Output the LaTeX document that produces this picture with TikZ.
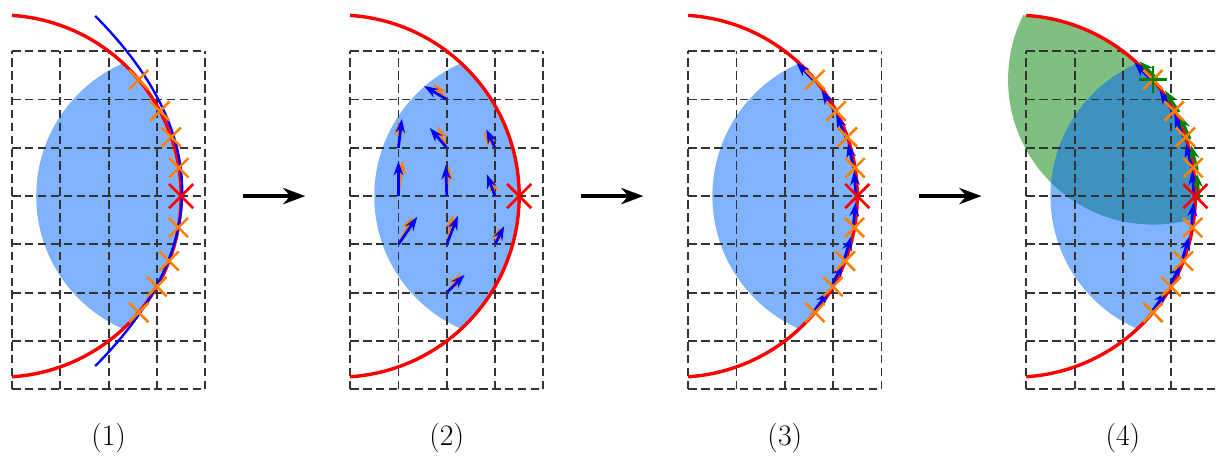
\documentclass[tikz,border=0pt]{standalone}
\usetikzlibrary{arrows.meta,calc}
\begin{document}
\begin{tikzpicture}[
    gridline/.style={draw=black!80, line width=1.05pt, dash pattern=on 5pt off 2.6pt},
    shell/.style={draw=red, line width=2pt},
    fitcurve/.style={draw=blue, line width=1.4pt},
    bluezone/.style={fill=zoneblue, fill opacity=0.5},
    greenzone/.style={fill=zonegreen, fill opacity=0.5},
    sample/.style={draw=markorange, line width=1.5pt},
    centre/.style={draw=red, line width=1.6pt},
    gradarrow/.style={-{Stealth[length=2.9mm,width=2mm]}, line width=1.6pt},
    steparrow/.style={-{Stealth[length=4.6mm,width=3.4mm,inset=1.5mm]}, draw=black, line width=1.9pt},
    panellabel/.style={font=\fontsize{17.5}{21}\selectfont}
]
\definecolor{zoneblue}{RGB}{0,102,255}
\definecolor{zonegreen}{RGB}{0,128,0}
\definecolor{markorange}{RGB}{255,128,0}
\tikzset{samplecross/.pic={\draw[pic actions] (-#1,-#1) -- (#1,#1) (-#1,#1) -- (#1,-#1);}}

\useasboundingbox (-0.25,-5.40) rectangle (24.99,4.06);

% (1) sampled points and fitted curve
\begin{scope}
  \begin{scope}
    \clip (-0.25,0) circle (3.75);
    \fill[bluezone] (3.5,0) circle (3);
  \end{scope}
  \draw[gridline] (0,-4) grid (4,3);
  \draw[shell] (-0.25,0) ++(86.2:3.75) arc (86.2:-86.2:3.75);
  \draw[fitcurve] plot[domain=-3.52:3.73, samples=60, smooth] ({3.52-0.137*\x*\x+0.0288*\x},\x);
  \foreach \a in {40,28,19,9,-10,-21,-30,-40}
    \pic[sample] at ($(-0.25,0)+(\a:3.75)$) {samplecross=0.2};
  \pic[centre] at (3.5,0) {samplecross=0.25};
  \node[panellabel] (lab1) at (2,-5.01) {(1)};
\end{scope}

% (2) gradients on the grid points
\begin{scope}[xshift=7cm]
  \begin{scope}
    \clip (-0.25,0) circle (3.75);
    \fill[bluezone] (3.5,0) circle (3);
  \end{scope}
  \draw[gridline] (0,-4) grid (4,3);
  \draw[shell] (-0.25,0) ++(86.2:3.75) arc (86.2:-86.2:3.75);
  \foreach \gx/\gy/\bx/\by/\ox/\oy in {
      2/2/-0.47/0.28/-0.28/0.33, 1/1/0.07/0.60/0.02/0.55,
      2/1/-0.35/0.41/-0.19/0.45, 3/1/-0.18/0.38/-0.24/0.32,
      1/0/0/0.72/0.09/0.74, 2/0/-0.02/0.64/0.05/0.62,
      3/0/-0.17/0.45/-0.08/0.37, 1/-1/0.39/0.57/0.29/0.57,
      2/-1/0.23/0.59/0.14/0.62, 3/-1/0.19/0.38/0.10/0.36,
      2/-2/0.37/0.37/0.29/0.39} {
    \draw[gradarrow, draw=markorange, line width=1.3pt] (\gx,\gy) -- ++(\ox,\oy);
    \draw[gradarrow, draw=blue] (\gx,\gy) -- ++(\bx,\by);
  }
  \pic[centre] at (3.5,0) {samplecross=0.25};
  \node[panellabel] (lab2) at (2,-5.01) {(2)};
\end{scope}

% (3) tangent steps along the boundary
\begin{scope}[xshift=14cm]
  \begin{scope}
    \clip (-0.25,0) circle (3.75);
    \fill[bluezone] (3.5,0) circle (3);
  \end{scope}
  \draw[gridline] (0,-4) grid (4,3);
  \draw[shell] (-0.25,0) ++(86.2:3.75) arc (86.2:-86.2:3.75);
  \foreach \a in {-40,-30,-21,-10,0,9,19,28,40}
    \draw[gradarrow, draw=blue] ($(-0.25,0)+(\a:3.72)$) -- ($(-0.25,0)+(\a+8:3.72)$);
  \foreach \a in {40,28,19,9,-10,-21,-30,-40}
    \pic[sample] at ($(-0.25,0)+(\a:3.75)$) {samplecross=0.2};
  \pic[centre] at (3.5,0) {samplecross=0.25};
  \node[panellabel] (lab3) at (2,-5.01) {(3)};
\end{scope}

% (4) second neighbourhood around the top sample
\begin{scope}[xshift=21cm]
  \coordinate (top) at ($(-0.25,0)+(40:3.75)$);
  \begin{scope}
    \clip (-0.25,0) circle (3.75);
    \fill[greenzone] (top) circle (3);
    \fill[bluezone] (3.5,0) circle (3);
  \end{scope}
  \draw[gridline] (0,-4) grid (4,3);
  \draw[shell] (-0.25,0) ++(86.2:3.75) arc (86.2:-86.2:3.75);
  \foreach \a in {-40,-30,-21,-10,0,9,19,28,40}
    \draw[gradarrow, draw=blue] ($(-0.25,0)+(\a:3.72)$) -- ($(-0.25,0)+(\a+8:3.72)$);
  \foreach \a in {0,9,19,28,40}
    \draw[gradarrow, draw=zonegreen] ($(-0.25,0)+(\a-1:3.83)$) -- ($(-0.25,0)+(\a+7:3.81)$);
  \foreach \a in {40,28,19,9,-10,-21,-30,-40}
    \pic[sample] at ($(-0.25,0)+(\a:3.75)$) {samplecross=0.2};
  \pic[centre] at (3.5,0) {samplecross=0.25};
  \draw[draw=zonegreen, line width=1.6pt] (top) +(-0.28,0) -- +(0.28,0) +(0,-0.28) -- +(0,0.28);
  \node[panellabel] (lab4) at (2,-5.01) {(4)};
\end{scope}

% steps between the panels
\foreach \k in {0,1,2} {
  \coordinate (from\k) at (7*\k+4.78,0);
  \coordinate (to\k) at (7*\k+6.07,0);
  \draw[steparrow] (from\k) -- (to\k);
}
\end{tikzpicture}
\end{document}
